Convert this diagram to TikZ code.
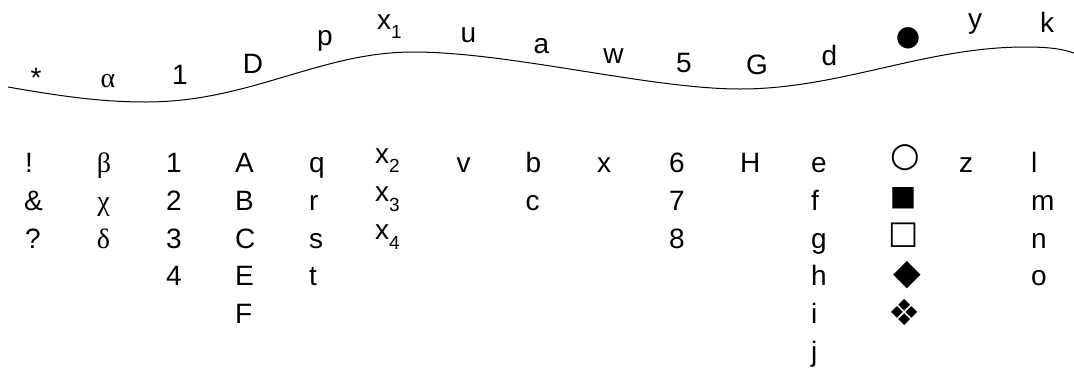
\documentclass[tikz,border=0pt]{standalone}
\usepackage{fontspec}
\setmainfont{Liberation Sans}
\newfontfamily\grk{Liberation Serif}
\newfontfamily\sym{DejaVu Sans}
\newcommand{\bigsz}{\fontsize{28}{34}\selectfont}
\newcommand{\xsub}[1]{x\lower9.5pt\hbox{\fontsize{19}{19}\selectfont #1}}
\begin{document}
\begin{tikzpicture}[x=1pt,y=-1pt,
  lbl/.style={inner sep=0pt,anchor=base,font=\bigsz},
  lft/.style={inner sep=0pt,anchor=base west,font=\bigsz},
  gk/.style={inner sep=0pt,anchor=base,font=\grk\bigsz},
  sy/.style={inner sep=0pt,anchor=center,font=\sym\fontsize{#1}{#1}\selectfont},
  wave/.style={line width=1pt}]
\useasboundingbox (0,0) rectangle (1074,373);
% wavy line
\draw[wave] (8,87) .. controls (60,96) and (100,102) .. (146,102)
  .. controls (250,102) and (320,52) .. (413,52)
  .. controls (510,52) and (650,89) .. (740,89)
  .. controls (840,89) and (925,47) .. (1025,47)
  .. controls (1050,47) and (1062,49) .. (1074,53);
% labels above the line
\node[lbl] (ta) at (36,87) {*};
\node[gk]  (tb) at (108,87) {α};
\node[lbl] (tc) at (180,84) {1};
\node[lbl] (td) at (253,73) {D};
\node[lbl] (te) at (325,45) {p};
\node[lft] (tf) at (377,29) {\xsub{1}};
\node[lbl] (tg) at (468.5,42) {u};
\node[lbl] (th) at (541.5,53) {a};
\node[lbl] (ti) at (613.5,63) {w};
\node[lbl] (tj) at (684,72) {5};
\node[lbl] (tk) at (757,74) {G};
\node[lbl] (tl) at (829.5,65) {d};
\node[sy=28] (tm) at (908,38) {●};
\node[lbl] (tn) at (975,28) {y};
\node[lbl] (to) at (1047,32) {k};
% columns below
\node[lft] (a1) at (25,172.5) {!};
\node[lft] (a2) at (24,210.3) {\&};
\node[lft] (a3) at (25,248.1) {?};
\node[gk] (b1) at (104,172.5) {β};
\node[gk] (b2) at (103.5,210.3) {χ};
\node[gk] (b3) at (103.5,248.1) {δ};
\node[lft] (c1) at (166,172.5) {1};
\node[lft] (c2) at (166,210.3) {2};
\node[lft] (c3) at (166,248.1) {3};
\node[lft] (c4) at (166,285.9) {4};
\node[lft] (d1) at (235,172.5) {A};
\node[lft] (d2) at (235,210.3) {B};
\node[lft] (d3) at (235,248.1) {C};
\node[lft] (d4) at (235,285.9) {E};
\node[lft] (d5) at (235,323.7) {F};
\node[lft] (e1) at (309,172.5) {q};
\node[lft] (e2) at (309,210.3) {r};
\node[lft] (e3) at (309,248.1) {s};
\node[lft] (e4) at (309,285.9) {t};
\node[lft] (f1) at (375,163) {\xsub{2}};
\node[lft] (f2) at (375,201.5) {\xsub{3}};
\node[lft] (f3) at (375,239.5) {\xsub{4}};
\node[lft] (g1) at (456.5,172.5) {v};
\node[lft] (h1) at (525.5,172.5) {b};
\node[lft] (h2) at (525.5,210.3) {c};
\node[lft] (i1) at (597,172.5) {x};
\node[lft] (j1) at (669,172.5) {6};
\node[lft] (j2) at (669,210.3) {7};
\node[lft] (j3) at (669,248.1) {8};
\node[lft] (k1) at (740,172.5) {H};
\node[lft] (l1) at (811,172.5) {e};
\node[lft] (l2) at (811,210.3) {f};
\node[lft] (l3) at (811,248.1) {g};
\node[lft] (l4) at (811,285.9) {h};
\node[lft] (l5) at (811,323.7) {i};
\node[lft] (l6) at (811,361.5) {j};
\node[sy=34] (m1) at (905,158) {○};
\node[sy=28] (m2) at (903,198) {■};
\node[sy=32] (m3) at (904,235) {□};
\node[sy=36] (m4) at (907,275) {◆};
\node[sy=36] (m5) at (905,312) {❖};
\node[lft] (n1) at (959,172.5) {z};
\node[lft] (o1) at (1031,172.5) {l};
\node[lft] (o2) at (1031,210.3) {m};
\node[lft] (o3) at (1031,248.1) {n};
\node[lft] (o4) at (1031,285.9) {o};
\end{tikzpicture}
\end{document}
